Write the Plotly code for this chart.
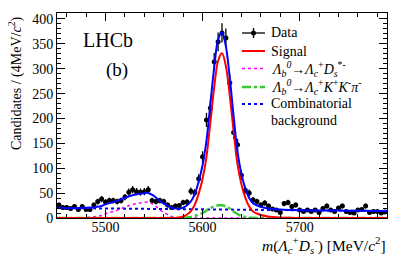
import numpy as np
import plotly.graph_objects as go

# ---------------- data (4 MeV bins) ----------------
bin_centers = list(range(5452, 5790, 4))
counts = [26, 21, 21, 19, 23, 17, 23, 17, 17, 26,
          33, 38, 32, 35, 35, 33, 35, 42, 52, 57,
          53, 52, 53, 57, 35, 33, 35, 33, 26, 21,
          24, 25, 31, 32, 54, 51, 79, 123, 197, 221,
          314, 354, 372, 362, 272, 172, 147, 86, 56, 50,
          36, 33, 26, 30, 24, 18, 16, 11, 29, 31,
          23, 26, 16, 13, 16, 13, 16, 11, 19, 24,
          16, 13, 20, 24, 13, 11, 10, 16, 17, 24,
          11, 13, 13, 10, 12]

# ---------------- fit components ----------------
curve_mass = [5450, 5460, 5470, 5480, 5490, 5496, 5502, 5508, 5514, 5520,
              5526, 5532, 5538, 5544, 5550, 5556, 5562, 5568, 5574, 5580,
              5584, 5588, 5592, 5596, 5600, 5604, 5608, 5612, 5616, 5620,
              5624, 5628, 5632, 5636, 5640, 5644, 5648, 5652, 5656, 5660,
              5666, 5672, 5680, 5690, 5700, 5720, 5740, 5760, 5790]
comb = [20.0, 19.8, 19.6, 19.5, 19.3, 19.2, 19.1, 19.0, 18.9, 18.8,
        18.7, 18.6, 18.5, 18.3, 18.2, 18.1, 18.0, 17.9, 17.8, 17.7,
        17.6, 17.6, 17.5, 17.4, 17.4, 17.3, 17.2, 17.2, 17.1, 17.0,
        16.9, 16.9, 16.8, 16.7, 16.7, 16.6, 16.5, 16.5, 16.4, 16.3,
        16.2, 16.1, 15.9, 15.8, 15.6, 15.2, 14.9, 14.5, 14.0]
dsstar = [0, 0, 0, 1, 3, 5, 10, 13, 17, 22,
          26, 29, 31, 32, 26, 16, 9, 3, 0.5, 0,
          0, 0, 0, 0, 0, 0, 0, 0, 0, 0,
          0, 0, 0, 0, 0, 0, 0, 0, 0, 0,
          0, 0, 0, 0, 0, 0, 0, 0, 0]
signal = [0, 0, 0, 0, 0, 0, 0, 0, 0, 0,
          0, 0, 0, 0, 0, 0, 0, 0, 0.5, 3,
          7, 14, 27, 49, 79, 123, 192, 263, 316, 331,
          305, 246, 174, 108, 68, 41, 23, 13, 9, 6,
          3.5, 2, 1, 0.3, 0, 0, 0, 0, 0]
kkpi = [0, 0, 0, 0, 0, 0, 0, 0, 0, 0,
        0, 0, 0, 0, 0, 0, 0, 0, 0, 0,
        1, 2, 4, 7, 10, 15, 20, 23, 25.5, 25.5,
        23, 19, 13, 8, 4, 2, 0.8, 0.3, 0, 0,
        0, 0, 0, 0, 0, 0, 0, 0, 0]

y_ticks = [0, 50, 100, 150, 200, 250, 300, 350, 400]
x_ticks = [5500, 5600, 5700]

legend_labels = ["Data", "Signal",
                 "<i>Λ</i><sub><i>b</i></sub><sup><i>0</i></sup>→<i>Λ</i><sub><i>c</i></sub><sup>+</sup><i>D</i><sub><i>s</i></sub><sup>*-</sup>",
                 "<i>Λ</i><sub><i>b</i></sub><sup><i>0</i></sup>→<i>Λ</i><sub><i>c</i></sub><sup>+</sup><i>K</i><sup>+</sup><i>K</i><sup>-</sup><i>π</i><sup>-</sup>",
                 "Combinatorial", "background"]

total = list(np.array(comb) + np.array(dsstar) + np.array(signal) + np.array(kkpi))
errs = list(np.sqrt(np.array(counts, dtype=float)))

FONT = "Liberation Serif, Times New Roman, serif"
BLUE, RED, MAG, GRN = "#0000ff", "#ff0000", "#ff00ff", "#33cc33"

fig = go.Figure()
fig.add_trace(go.Scatter(
    x=bin_centers, y=counts, mode="markers",
    marker=dict(color="black", size=5),
    error_y=dict(type="data", array=errs, color="black", thickness=1.3, width=0),
    error_x=dict(type="constant", value=2, color="black", thickness=1.3, width=0),
    showlegend=False))

lc = dict(line_shape="spline", mode="lines", showlegend=False)
fig.add_trace(go.Scatter(x=curve_mass, y=comb, line=dict(color=BLUE, width=2, dash="dot"), **lc))
fig.add_trace(go.Scatter(x=curve_mass, y=dsstar, line=dict(color=MAG, width=1.5, dash="dot"), **lc))
fig.add_trace(go.Scatter(x=curve_mass, y=kkpi, line=dict(color=GRN, width=2.5, dash="dashdot"), **lc))
fig.add_trace(go.Scatter(x=curve_mass, y=signal, line=dict(color=RED, width=2), **lc))
fig.add_trace(go.Scatter(x=curve_mass, y=total, line=dict(color=BLUE, width=2), **lc))

axis_common = dict(showline=True, linecolor="black", linewidth=1, mirror="allticks",
                   ticks="inside", tickcolor="black", ticklen=8, tickwidth=1,
                   showgrid=False, zeroline=False,
                   tickfont=dict(family=FONT, size=14, color="black"))
fig.update_xaxes(range=[5450, 5790], tickvals=x_ticks, ticklabelstandoff=-4,
                 minor=dict(dtick=20, tick0=5440, ticks="inside", ticklen=4,
                            tickcolor="black", showgrid=False),
                 **axis_common)
fig.update_yaxes(range=[0, 412], tickvals=y_ticks,
                 minor=dict(dtick=10, tick0=0, ticks="inside", ticklen=4,
                            tickcolor="black", showgrid=False),
                 **axis_common)

# page pixel -> paper coordinates (plot area spans x 57..387, y 13..218 in the page)
def px(x):
    return (x - 57) / 330.0

def py(y):
    return (218 - y) / 205.0

fig.add_annotation(text="<i>m</i>(<i>Λ</i><sub><i>c</i></sub><sup>+</sup><i>D</i><sub><i>s</i></sub><sup>-</sup>) [MeV/<i>c</i><sup>2</sup>]",
                   xref="paper", yref="paper", x=px(388), y=py(245), xanchor="right", yanchor="middle",
                   showarrow=False, font=dict(family=FONT, size=15.5, color="black"))
fig.add_annotation(text="Candidates / (4MeV/<i>c</i><sup>2</sup>)",
                   xref="paper", yref="paper", x=px(15), y=py(14), xanchor="center", yanchor="top",
                   textangle=-90, showarrow=False, font=dict(family=FONT, size=14, color="black"))
fig.add_annotation(text="LHCb", xref="paper", yref="paper", x=px(108), y=py(40),
                   xanchor="center", yanchor="middle", showarrow=False,
                   font=dict(family=FONT, size=20, color="black"))
fig.add_annotation(text="(b)", xref="paper", yref="paper", x=px(117), y=py(70),
                   xanchor="center", yanchor="middle", showarrow=False,
                   font=dict(family=FONT, size=19, color="black"))

# hand-built legend (ROOT-style)
rows = [33, 51, 68.5, 87, 104, 120]
for lab, r in zip(legend_labels, rows):
    fig.add_annotation(text=lab, xref="paper", yref="paper", x=px(269), y=py(r),
                       xanchor="left", yanchor="middle", showarrow=False,
                       font=dict(family=FONT, size=14, color="black"))
sw_x0, sw_x1 = px(242), px(265)
swatches = [("black", "solid", 1.3, rows[0]), (RED, "solid", 2, rows[1]),
            (MAG, "dot", 1.5, rows[2]), (GRN, "dashdot", 2.5, rows[3]),
            (BLUE, "dot", 2, rows[4])]
for col, dash, w, r in swatches:
    fig.add_shape(type="line", xref="paper", yref="paper", x0=sw_x0, x1=sw_x1,
                  y0=py(r), y1=py(r), line=dict(color=col, width=w, dash=dash))
fig.add_shape(type="line", xref="paper", yref="paper", x0=px(253.5), x1=px(253.5),
              y0=py(rows[0] - 5), y1=py(rows[0] + 5), line=dict(color="black", width=1.3))
fig.add_shape(type="circle", xref="paper", yref="paper", x0=px(251), x1=px(256),
              y0=py(rows[0] + 2.5), y1=py(rows[0] - 2.5), fillcolor="black",
              line=dict(color="black", width=0))

# the page body adds an 8px offset, so the figure is shrunk by that amount
fig.update_layout(
    width=399, height=252,
    margin=dict(l=49, r=20, t=5, b=42),
    paper_bgcolor="white", plot_bgcolor="white",
    font=dict(family=FONT, size=13, color="black"),
    showlegend=False,
)
fig.write_html("out.html")
